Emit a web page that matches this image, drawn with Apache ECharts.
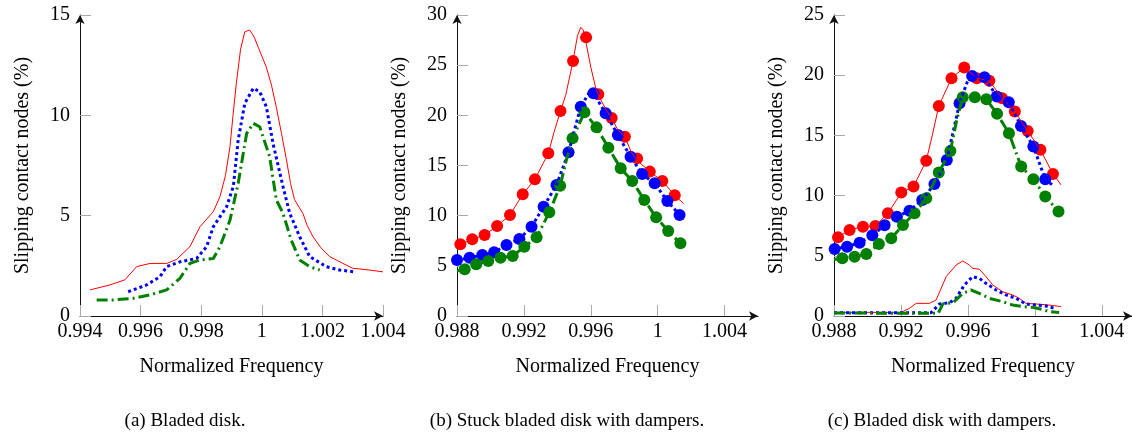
<!DOCTYPE html>
<html>
<head>
<meta charset="utf-8">
<script src="https://cdn.jsdelivr.net/npm/echarts@6/dist/echarts.min.js"></script>
<style>
  html, body { margin: 0; padding: 0; background: #fff; }
  #warm { font: 20px "Liberation Serif"; color: #fff; position: absolute; left: 400px; top: 380px; }
  #chart { position: absolute; left: 0; top: 0; width: 1132px; height: 437px; }
</style>
</head>
<body>
<div id="warm">Slipping contact nodes (%) 0.996</div>
<div id="chart"></div>
<script>
// (a) bladed disk: red solid, blue dotted, green dash-dot
var aRed = [[0.99433,1.3],[0.99499,1.55],[0.99548,1.8],[0.99587,2.46],[0.99631,2.62],[0.99686,2.62],[0.99719,2.82],
  [0.99763,3.46],[0.99796,4.45],[0.9984,5.2],[0.99862,5.95],[0.9988,7.0],[0.99895,8.44],[0.99905,10.0],[0.99916,11.6],
  [0.9993,13.3],[0.99944,14.17],[0.9996,14.25],[0.99975,13.9],[0.99988,13.4],[1.00015,12.4],[1.00032,11.5],[1.00048,10.4],
  [1.00065,9.1],[1.0008,7.9],[1.00095,6.6],[1.00108,5.8],[1.00136,5.1],[1.0015,4.5],[1.00169,3.95],[1.00195,3.4],
  [1.00224,2.96],[1.00268,2.62],[1.003,2.38],[1.0035,2.3],[1.004,2.2]];
var aBlue = [[0.99559,1.21],[0.9962,1.55],[0.99664,1.96],[0.99686,2.46],[0.9973,2.7],[0.99785,2.87],[0.99818,3.46],
  [0.9984,4.45],[0.99884,5.45],[0.99906,6.45],[0.99922,8.77],[0.99944,10.6],[0.99972,11.35],[0.99993,11.18],[1.00015,10.43],
  [1.00037,8.6],[1.0007,6.45],[1.00092,5.12],[1.00125,3.95],[1.00158,2.96],[1.00213,2.46],[1.00257,2.29],[1.00306,2.2]];
var aGreen = [[0.99455,0.8],[0.9951,0.8],[0.99576,0.88],[0.99631,1.05],[0.99686,1.3],[0.9973,1.88],[0.99763,2.62],
  [0.99796,2.79],[0.9984,2.87],[0.99862,3.46],[0.99895,4.78],[0.99922,6.61],[0.9995,9.1],[0.99972,9.6],[0.99993,9.43],
  [1.00026,7.94],[1.00048,5.78],[1.0007,5.12],[1.00097,3.79],[1.00125,2.79],[1.00158,2.46],[1.00191,2.29]];

// (b) stuck bladed disk with dampers
var bRed = [[0.988,7.0],[0.9882,7.14],[0.98891,7.64],[0.98965,8.07],[0.9904,8.97],[0.99117,10.07],[0.99193,12.13],
  [0.99266,13.62],[0.99346,16.21],[0.9938,18.3],[0.99419,20.43],[0.9945,22.0],[0.99494,25.42],[0.9952,27.9],[0.9954,28.77],
  [0.99555,28.5],[0.99572,27.2],[0.996,24.8],[0.9963,22.7],[0.99649,21.9],[0.9969,20.6],[0.99725,19.73],[0.9976,18.6],
  [0.99804,17.87],[0.9984,16.4],[0.99877,15.5],[0.99953,14.39],[1.00028,13.45],[1.00102,12.03],[1.00155,11.2]];
var bRedMarks = [[0.9882,7.14],[0.98891,7.64],[0.98965,8.07],[0.9904,8.97],[0.99117,10.07],[0.99193,12.13],[0.99266,13.62],
  [0.99346,16.21],[0.99419,20.43],[0.99494,25.42],[0.99572,27.77],[0.99645,22.09],[0.99725,19.73],[0.99804,17.87],
  [0.99877,15.71],[0.99953,14.39],[1.00028,13.45],[1.00102,12.03]];
var bBlue = [[0.988,5.58],[0.98875,5.81],[0.98951,6.08],[0.99022,6.35],[0.99096,7.08],[0.99173,7.67],[0.99246,8.9],
  [0.99318,10.9],[0.99395,13.06],[0.99467,16.31],[0.9954,20.86],[0.99594,22.36],[0.99616,22.19],[0.99689,20.2],
  [0.99762,18.04],[0.99838,15.88],[0.99907,14.15],[0.99982,13.22],[1.00058,11.46],[1.00131,10.07]];
var bBlueMarks = [[0.988,5.58],[0.98875,5.81],[0.98951,6.08],[0.99022,6.35],[0.99096,7.08],[0.99173,7.67],[0.99246,8.9],
  [0.99318,10.9],[0.99395,13.06],[0.99467,16.31],[0.9954,20.86],[0.99616,22.19],[0.99689,20.2],[0.99762,18.04],
  [0.99838,15.88],[0.99907,14.15],[0.99982,13.22],[1.00058,11.46],[1.00131,10.07]];
var bGreen = [[0.988,4.5],[0.98846,4.65],[0.98915,5.15],[0.98987,5.48],[0.9906,5.81],[0.99133,5.98],[0.99203,6.91],
  [0.99276,7.84],[0.99352,10.33],[0.99417,12.99],[0.99455,15.6],[0.99491,17.71],[0.99562,20.3],[0.99634,18.8],
  [0.99705,16.78],[0.99779,14.72],[0.99848,13.45],[0.9992,11.56],[0.99991,9.83],[1.00063,8.47],[1.00136,7.24]];
var bGreenMarks = [[0.98846,4.65],[0.98915,5.15],[0.98987,5.48],[0.9906,5.81],[0.99133,5.98],[0.99203,6.91],[0.99276,7.84],
  [0.99352,10.33],[0.99417,12.99],[0.99491,17.71],[0.99562,20.3],[0.99634,18.8],[0.99705,16.78],[0.99779,14.72],
  [0.99848,13.45],[0.9992,11.56],[0.99991,9.83],[1.00063,8.47],[1.00136,7.24]];

// (c) bladed disk with dampers
var cRedMarks = [[0.98824,6.54],[0.98893,7.15],[0.98973,7.42],[0.99047,7.48],[0.99122,8.53],[0.99202,10.25],[0.99275,10.75],
  [0.99351,12.9],[0.99426,17.45],[0.99502,19.75],[0.99578,20.64],[0.99653,19.75],[0.99728,19.53],[0.99804,18.09],
  [0.9988,16.98],[0.99957,15.37],[1.00033,13.8],[1.00108,11.8]];
var cRed = [[0.988,6.4],[0.98824,6.54],[0.98893,7.15],[0.98973,7.42],[0.99047,7.48],[0.99122,8.53],[0.99202,10.25],
  [0.99275,10.75],[0.99351,12.9],[0.99387,15.0],[0.99426,17.45],[0.99502,19.75],[0.99578,20.64],[0.99653,19.75],
  [0.99728,19.53],[0.99804,18.09],[0.9988,16.98],[0.99957,15.37],[1.00033,13.8],[1.00108,11.8],[1.00156,10.89]];
var cBlueMarks = [[0.98804,5.57],[0.98878,5.76],[0.98953,6.09],[0.99029,6.7],[0.99102,7.53],[0.99176,8.25],[0.99251,8.75],
  [0.99327,9.64],[0.994,10.97],[0.99474,12.96],[0.9955,17.67],[0.99625,19.94],[0.99699,19.83],[0.99772,18.23],
  [0.99844,17.76],[0.99917,15.79],[0.99991,14.07],[1.00062,11.36]];
var cBlue = [[0.988,5.57],[0.98878,5.76],[0.98953,6.09],[0.99029,6.7],[0.99102,7.53],[0.99176,8.25],[0.99251,8.75],
  [0.99327,9.64],[0.994,10.97],[0.99474,12.96],[0.9955,17.67],[0.99595,19.4],[0.99625,19.94],[0.99699,19.83],
  [0.99772,18.23],[0.99844,17.76],[0.99917,15.79],[0.99991,14.07],[1.00062,11.36],[1.00116,10.75]];
var cGreenMarks = [[0.9885,4.79],[0.98923,4.93],[0.98993,5.15],[0.99068,5.98],[0.99142,6.45],[0.99212,7.56],[0.99281,8.53],
  [0.99351,9.78],[0.99426,11.91],[0.99495,13.71],[0.99569,18.17],[0.99641,18.17],[0.9971,18.0],[0.99774,16.79],
  [0.99845,15.18],[0.99918,12.41],[0.99991,11.36],[1.00062,9.92],[1.00141,8.67]];
var cGreen = [[0.988,4.7],[0.9885,4.79],[0.98923,4.93],[0.98993,5.15],[0.99068,5.98],[0.99142,6.45],[0.99212,7.56],
  [0.99281,8.53],[0.99351,9.78],[0.99426,11.91],[0.99495,13.71],[0.99535,16.4],[0.99569,18.17],[0.99641,18.17],
  [0.9971,18.0],[0.99774,16.79],[0.99845,15.18],[0.99918,12.41],[0.99991,11.36],[1.00062,9.92],[1.00141,8.67]];
var cRedLow = [[0.988,0.3],[0.992,0.3],[0.99251,0.64],[0.99291,1.05],[0.9937,1.05],[0.9941,1.33],[0.9947,3.27],
  [0.9953,4.24],[0.99569,4.57],[0.99608,4.24],[0.99628,3.96],[0.99668,3.88],[0.99708,3.27],[0.99748,2.58],[0.99807,2.02],
  [0.99867,1.75],[0.99907,1.47],[0.99946,1.05],[1.00006,1.0],[1.00085,0.91],[1.00155,0.78]];
var cBlueLow = [[0.988,0.28],[0.9938,0.28],[0.9943,1.0],[0.9949,1.1],[0.99529,1.47],[0.99579,2.58],[0.99628,3.27],
  [0.99668,3.13],[0.99708,2.71],[0.99768,2.16],[0.99827,1.75],[0.99887,1.47],[0.99946,1.0],[1.00006,0.91],
  [1.00066,0.83],[1.00116,0.64]];
var cGreenLow = [[0.988,0.25],[0.99422,0.22],[0.9945,1.0],[0.99511,1.1],[0.99569,1.88],[0.99618,2.16],[0.99668,1.88],
  [0.99728,1.47],[0.99807,1.19],[0.99867,0.91],[0.99926,0.78],[0.99986,0.72],[1.00046,0.55],[1.00085,0.36],[1.00145,0.3]];

var captions = ['(a) Bladed disk.', '(b) Stuck bladed disk with dampers.', '(c) Bladed disk with dampers.'];
var yName = 'Slipping contact nodes (%)';
var xName = 'Normalized Frequency';

var RED = { color: '#ff0000', width: 1 };
var BLUE = { color: '#0000ff', width: 3, type: [3, 3], cap: 'butt' };
var GREEN = { color: '#008000', width: 3, type: [11, 4, 2, 4], cap: 'butt' };

var panels = [
  { left: 80, width: 303, xmin: 0.994, xmax: 1.004, xint: 0.002, ymax: 15, showMax: true, cap: 185 },
  { left: 457, width: 301, xmin: 0.988, xmax: 1.006, xint: 0.004, ymax: 30, showMax: false, cap: 567 },
  { left: 834, width: 298, xmin: 0.988, xmax: 1.0058, xint: 0.004, ymax: 25, showMax: false, cap: 942 }
];

function fmt(v) { return String(parseFloat(v.toFixed(4))); }

function line(idx, data, style) {
  return { type: 'line', xAxisIndex: idx, yAxisIndex: idx, data: data, showSymbol: false, symbol: 'none',
    lineStyle: style, silent: true };
}
function marks(idx, data, color) {
  return { type: 'scatter', xAxisIndex: idx, yAxisIndex: idx, data: data, symbol: 'circle', symbolSize: 12,
    itemStyle: { color: color, opacity: 1 }, silent: true };
}

function buildOption(font) {
  var grids = [], xAxes = [], yAxes = [], graphics = [];
  panels.forEach(function (p, i) {
    grids.push({ left: p.left, top: 15, width: p.width, height: 301, outerBoundsMode: 'none', containLabel: false });
    xAxes.push({
      type: 'value', gridIndex: i, min: p.xmin, max: p.xmax, interval: p.xint,
      name: xName, nameLocation: 'middle', nameGap: 41,
      nameTextStyle: { fontFamily: font, fontSize: 20, color: '#000' },
      axisLine: { lineStyle: { color: '#111', width: 1 }, symbol: ['none', 'arrow'], symbolSize: [7, 9] },
      axisTick: { inside: true, length: 11, lineStyle: { color: '#aaa' } },
      axisLabel: { fontFamily: font, fontSize: 20, color: '#000', margin: 6, formatter: fmt, showMaxLabel: p.showMax, showMinLabel: true },
      splitLine: { show: false }
    });
    yAxes.push({
      type: 'value', gridIndex: i, min: 0, max: p.ymax, interval: 5,
      name: yName, nameLocation: 'middle', nameGap: 47,
      nameTextStyle: { fontFamily: font, fontSize: 20, color: '#000' },
      axisLine: { show: true, lineStyle: { color: '#111', width: 1 }, symbol: ['none', 'arrow'], symbolSize: [7, 9] },
      axisTick: { show: true, inside: true, length: 11, lineStyle: { color: '#aaa' } },
      axisLabel: { fontFamily: font, fontSize: 20, color: '#000', margin: 10 },
      splitLine: { show: false }
    });
    graphics.push({
      type: 'text', x: p.cap, y: 412,
      style: { text: captions[i], fontFamily: font, fontSize: 19, fill: '#000', textAlign: 'center' }
    });
  });

  return {
    animation: false,
    backgroundColor: 'transparent',
    textStyle: { fontFamily: font },
    grid: grids,
    xAxis: xAxes,
    yAxis: yAxes,
    series: [
      line(0, aRed, RED), line(0, aBlue, BLUE), line(0, aGreen, GREEN),
      line(1, bRed, RED), marks(1, bRedMarks, '#ff0000'),
      line(1, bBlue, BLUE), marks(1, bBlueMarks, '#0000ff'),
      line(1, bGreen, GREEN), marks(1, bGreenMarks, '#008000'),
      line(2, cRed, RED), marks(2, cRedMarks, '#ff0000'),
      line(2, cBlue, BLUE), marks(2, cBlueMarks, '#0000ff'),
      line(2, cGreen, GREEN), marks(2, cGreenMarks, '#008000'),
      line(2, cRedLow, RED), line(2, cBlueLow, BLUE), line(2, cGreenLow, GREEN)
    ],
    graphic: graphics
  };
}

var el = document.getElementById('chart');
var chart = echarts.init(el, null, { renderer: 'canvas' });
chart.setOption(buildOption('serif'));

// redraw once the serif face is really available to the canvas
// (new family string each time so cached text widths are not reused)
var fams = ['Liberation Serif', '"Liberation Serif"', '"Liberation Serif", serif'];
fams.forEach(function (f, k) {
  setTimeout(function () {
    chart.dispose();
    chart = echarts.init(el, null, { renderer: 'canvas' });
    chart.setOption(buildOption(f));
  }, 150 + k * 250);
});
</script>
</body>
</html>
